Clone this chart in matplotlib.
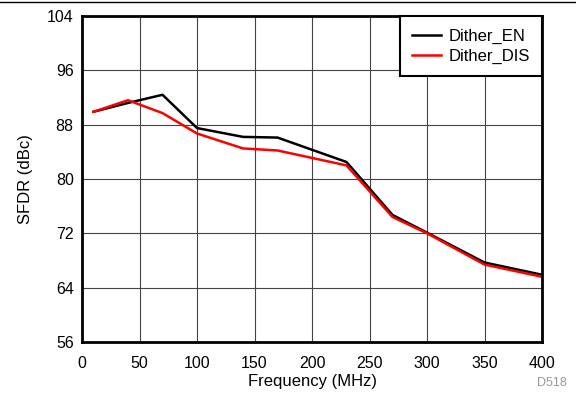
import matplotlib
matplotlib.use("Agg")
import matplotlib.pyplot as plt
from matplotlib.lines import Line2D

plt.rcParams["font.family"] = ["Liberation Sans", "DejaVu Sans"]

freq = [10, 40, 70, 100, 140, 170, 230, 270, 300, 350, 400]
sfdr_en = [89.9, 91.2, 92.4, 87.5, 86.2, 86.1, 82.5, 74.7, 72.1, 67.7, 65.9]
sfdr_dis = [89.9, 91.6, 89.7, 86.7, 84.5, 84.2, 82.0, 74.4, 72.0, 67.4, 65.6]

x_ticks = [0, 50, 100, 150, 200, 250, 300, 350, 400]
y_ticks = [56, 64, 72, 80, 88, 96, 104]

fig = plt.figure(figsize=(5.76, 3.96), dpi=100)
ax = fig.add_axes([0.1424, 0.1364, 0.7986, 0.8232])

ax.plot(freq, sfdr_en, color="black", lw=1.8, label="Dither_EN")
ax.plot(freq, sfdr_dis, color="#ff0000", lw=1.8, label="Dither_DIS")

ax.set_xlim(0, 400)
ax.set_ylim(56, 104)
ax.set_xticks(x_ticks)
ax.set_yticks(y_ticks)
ax.tick_params(length=0, labelsize=11.5)
ax.tick_params(axis="x", pad=10)
ax.tick_params(axis="y", pad=6)
ax.grid(True, color="#444444", lw=0.8)
for s in ax.spines.values():
    s.set_linewidth(2)

ax.set_xlabel("Frequency (MHz)", fontsize=12, labelpad=2)
ax.set_ylabel("SFDR (dBc)", fontsize=12, labelpad=10)

leg = ax.legend(loc="upper right", fontsize=12, fancybox=False,
                framealpha=1, borderaxespad=0, handlelength=1.7,
                handletextpad=0.45, borderpad=0.75, labelspacing=0.3)
leg.get_frame().set_edgecolor("black")
leg.get_frame().set_linewidth(1.5)

fig.add_artist(Line2D([0, 1], [0.994, 0.994], color="black", lw=1))
fig.text(0.984, 0.025, "D518", fontsize=9, color="#999999", ha="right")

fig.savefig("out.png", dpi=100)
